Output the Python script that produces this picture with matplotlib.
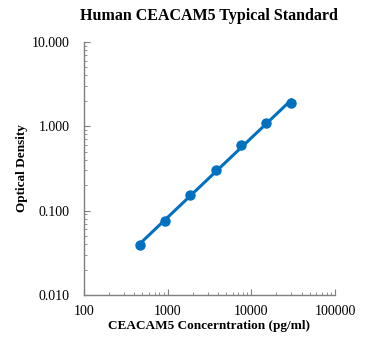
import numpy as np
import matplotlib.pyplot as plt
from matplotlib.ticker import FixedLocator, LogLocator, NullFormatter

# donnees
conc = [469, 938, 1875, 3750, 7500, 15000, 30000]
od = [0.039, 0.076, 0.155, 0.299, 0.597, 1.08, 1.88]
x_ticks = [100, 1000, 10000, 100000]
x_labels = ["100", "1000", "10000", "100000"]
y_ticks = [0.01, 0.1, 1, 10]
y_labels = ["0.010", "0.100", "1.000", "10.000"]

BLUE = "#0070C0"
GREY = "#7f7f7f"

plt.rcParams['font.family'] = ['Liberation Serif', 'DejaVu Serif']

fig = plt.figure(figsize=(3.71, 3.52), dpi=100)
ax = fig.add_axes([0.226, 0.162, 0.677, 0.719])

# courbe de tendance (puissance) sur la plage des points
lx, ly = np.log10(conc), np.log10(od)
a, b = np.polyfit(lx, ly, 1)
xf = np.array([min(conc), max(conc)])
ax.plot(xf, 10 ** (a * np.log10(xf) + b), color=BLUE, lw=2.2, zorder=2)
ax.plot(conc, od, 'o', color=BLUE, markersize=6.5, zorder=3)

ax.set_xscale('log')
ax.set_yscale('log')
ax.set_xlim(100, 100000)
ax.set_ylim(0.01, 10)

ax.xaxis.set_major_locator(FixedLocator(x_ticks))
ax.set_xticklabels(x_labels)
ax.yaxis.set_major_locator(FixedLocator(y_ticks))
ax.set_yticklabels(y_labels)
ax.xaxis.set_minor_locator(LogLocator(base=10, subs=np.arange(2, 10)))
ax.yaxis.set_minor_locator(LogLocator(base=10, subs=np.arange(2, 10)))
ax.xaxis.set_minor_formatter(NullFormatter())
ax.yaxis.set_minor_formatter(NullFormatter())

for s in ['top', 'right']:
    ax.spines[s].set_visible(False)
for s in ['left', 'bottom']:
    ax.spines[s].set_color(GREY)
    ax.spines[s].set_linewidth(1)

ax.tick_params(which='major', direction='in', length=4, color=GREY, labelsize=10, pad=10)
ax.tick_params(which='minor', direction='in', length=2.5, color=GREY)
ax.tick_params(axis='x', which='major', pad=7)

ax.set_title("Human CEACAM5 Typical Standard", fontsize=11.5, fontweight='bold', pad=16)
ax.set_xlabel("CEACAM5 Concerntration (pg/ml)", fontsize=9.5, fontweight='bold', labelpad=2)
ax.set_ylabel("Optical Density", fontsize=9.5, fontweight='bold', labelpad=3)

fig.savefig("out.png", dpi=100)
